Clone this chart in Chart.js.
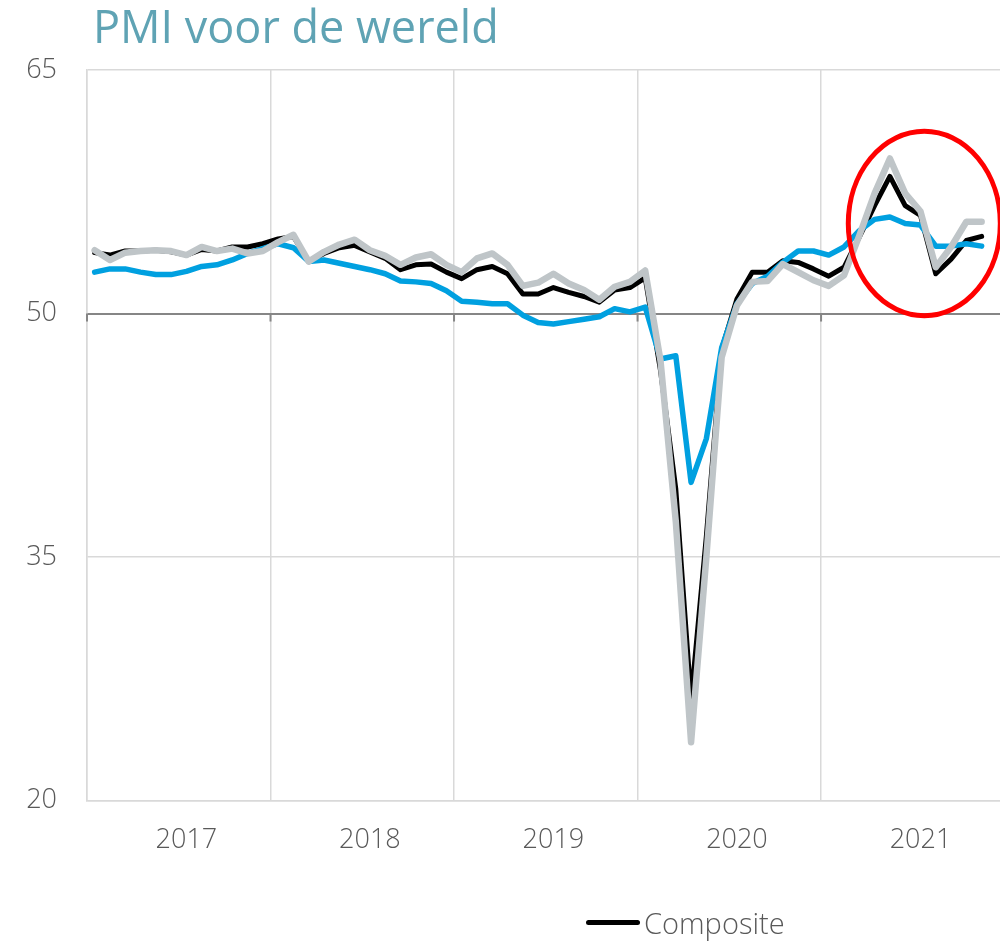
<!DOCTYPE html>
<html>
<head>
<meta charset="utf-8">
<script src="https://cdn.jsdelivr.net/npm/chart.js@4/dist/chart.umd.min.js"></script>
<style>
  html, body { margin: 0; padding: 0; background: #ffffff; overflow: hidden; }
  #wrap { position: relative; width: 1000px; height: 944px; }
  #title { position: absolute; left: 93px; top: -5px; margin: 0; font-family: "Open Sans", sans-serif; font-weight: 400; font-size: 45px; color: #5fa3b4; white-space: nowrap; }
  #legend { position: absolute; left: 586px; top: 903px; display: flex; align-items: center; font-family: "Open Sans", sans-serif; font-weight: 300; font-size: 29px; color: #595959; }
  #legend .sw { width: 54px; height: 5px; border-radius: 3px; background: #000; margin-right: 4px; }
  canvas { position: absolute; left: 0; top: 0; }
</style>
</head>
<body>
<div id="wrap">
  <canvas id="c" width="1000" height="944"></canvas>
  <h1 id="title">PMI voor de wereld</h1>
  <div id="legend"><span class="sw"></span><span>Composite</span></div>
</div>
<script>
// Tick labels (years, centred in each year band)
const years = ['2017', '2018', '2019', '2020', '2021'];
// Monthly values, Jan 2017 .. Nov 2021
const composite = [
  53.75, 53.6, 53.85, 53.85, 53.9, 53.8, 53.6, 53.95, 53.85, 54.1, 54.1, 54.3,
  54.6, 54.75, 53.2, 53.7, 54.05, 54.2, 53.8, 53.4, 52.7, 53.0, 53.05, 52.55,
  52.15, 52.7, 52.9, 52.45, 51.2, 51.2, 51.6, 51.3, 51.05, 50.7, 51.45, 51.6,
  52.2, 46.5, 39.2, 26.2, 36.3, 47.8, 50.9, 52.55, 52.55, 53.25, 53.15, 52.75,
  52.3, 52.85, 54.7, 56.65, 58.45, 56.65, 56.05, 52.45, 53.35, 54.5, 54.75
];
const manufacturing = [
  52.55, 52.75, 52.75, 52.55, 52.4, 52.4, 52.6, 52.9, 53.0, 53.3, 53.7, 54.0,
  54.3, 54.05, 53.2, 53.3, 53.1, 52.9, 52.7, 52.45, 52.0, 51.95, 51.85, 51.4,
  50.75, 50.7, 50.6, 50.6, 49.9, 49.45, 49.35, 49.5, 49.65, 49.8, 50.3, 50.1,
  50.4, 47.2, 47.4, 39.6, 42.3, 47.9, 50.6, 51.85, 52.3, 53.15, 53.85, 53.85,
  53.6, 54.1, 55.1, 55.8, 55.95, 55.55, 55.45, 54.15, 54.15, 54.3, 54.15
];
const services = [
  53.9, 53.3, 53.75, 53.85, 53.9, 53.85, 53.6, 54.1, 53.85, 54.0, 53.7, 53.85,
  54.4, 54.85, 53.2, 53.8, 54.25, 54.55, 53.9, 53.55, 53.0, 53.45, 53.65, 53.0,
  52.55, 53.4, 53.7, 53.0, 51.7, 51.9, 52.45, 51.85, 51.45, 50.85, 51.65, 51.95,
  52.65, 47.1, 37.2, 23.6, 35.0, 47.3, 50.5, 51.95, 52.0, 53.05, 52.55, 52.05,
  51.7, 52.35, 54.8, 57.4, 59.55, 57.4, 56.3, 52.85, 54.1, 55.65, 55.65
];
// Highlight ellipse (data units: month index / PMI value)
const highlight = { cx: 54.75, cy: 55.55, rx: 4.97, ry: 5.68 };

const toPts = arr => arr.map((v, i) => ({ x: i + 0.5, y: v }));

const yearStarts = years.map((_, k) => k * 12);
const yearMids = years.map((_, k) => k * 12 + 6.5);

const overlay = {
  id: 'overlay',
  beforeDatasetsDraw(chart) {
    const { ctx, scales: { x, y } } = chart;
    const y50 = y.getPixelForValue(50);
    ctx.save();
    ctx.strokeStyle = '#868686';
    ctx.lineWidth = 2;
    yearStarts.forEach(v => {
      const px = x.getPixelForValue(v);
      ctx.beginPath();
      ctx.moveTo(px, y50);
      ctx.lineTo(px, y50 + 8);
      ctx.stroke();
    });
    ctx.restore();
  },
  afterDatasetsDraw(chart) {
    const { ctx, scales: { x, y } } = chart;
    const cx = x.getPixelForValue(highlight.cx);
    const cy = y.getPixelForValue(highlight.cy);
    const rx = x.getPixelForValue(highlight.cx + highlight.rx) - cx;
    const ry = cy - y.getPixelForValue(highlight.cy + highlight.ry);
    ctx.save();
    ctx.strokeStyle = '#ff0000';
    ctx.lineWidth = 5;
    ctx.beginPath();
    ctx.ellipse(cx, cy, rx, ry, 0, 0, Math.PI * 2);
    ctx.stroke();
    ctx.restore();
  }
};

const lineDs = (label, data, color, width, order) => ({
  label, data: toPts(data), borderColor: color, backgroundColor: color,
  borderWidth: width, pointRadius: 0, tension: 0, order,
  borderCapStyle: 'round', borderJoinStyle: 'round', fill: false
});

new Chart(document.getElementById('c'), {
  type: 'line',
  data: {
    datasets: [
      lineDs('Services', services, '#bfc5c8', 6.5, 0),
      lineDs('Manufacturing', manufacturing, '#00a0e0', 5.5, 1),
      lineDs('Composite', composite, '#000000', 5, 2)
    ]
  },
  options: {
    responsive: false,
    animation: false,
    layout: { padding: { top: 70, bottom: 63, left: 0, right: 0 } },
    plugins: { legend: { display: false }, title: { display: false }, tooltip: { enabled: false } },
    scales: {
      x: {
        type: 'linear', min: 0, max: 59.7,
        afterBuildTicks: axis => {
          axis.ticks = yearStarts.concat(yearMids).sort((a, b) => a - b).map(v => ({ value: v }));
        },
        grid: {
          drawTicks: false,
          color: c => (c.tick && c.tick.value % 12 === 0) ? '#d9d9d9' : 'rgba(0,0,0,0)',
          lineWidth: 1.5
        },
        border: { color: '#d9d9d9', width: 1.5 },
        ticks: {
          autoSkip: false, maxRotation: 0, padding: 24,
          color: '#595959',
          font: { family: 'Open Sans', size: 27, weight: 300 },
          callback: v => (v % 12 === 6.5) ? years[(v - 6.5) / 12] : ''
        }
      },
      y: {
        min: 20, max: 65,
        afterFit: axis => { axis.width = 87; },
        grid: {
          drawTicks: false,
          color: c => (c.tick && c.tick.value === 50) ? '#868686' : '#d9d9d9',
          lineWidth: c => (c.tick && c.tick.value === 50) ? 2 : 1.5
        },
        border: { color: '#d9d9d9', width: 1.5 },
        ticks: {
          stepSize: 15, padding: 30,
          color: '#595959',
          font: { family: 'Open Sans', size: 27, weight: 300 }
        }
      }
    }
  },
  plugins: [overlay]
});
</script>
</body>
</html>
